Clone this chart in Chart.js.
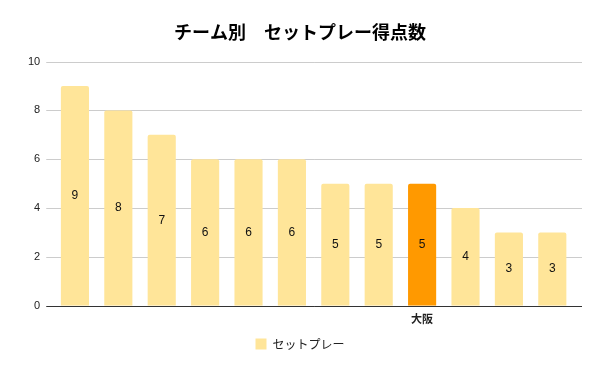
<!DOCTYPE html>
<html lang="ja">
<head>
  <meta charset="UTF-8" />
  <title>チーム別 セットプレー得点数</title>
  <style>
    html, body { margin: 0; padding: 0; background: #fff; }
    #wrap { width: 600px; height: 371px; }
  </style>
</head>
<body>
  <div id="wrap"><canvas id="chart"></canvas></div>
  <script src="https://cdn.jsdelivr.net/npm/chart.js"></script>
  <script>
    // data
    const teams = ['', '', '', '', '', '', '', '', '大阪', '', '', ''];
    const goals = [9, 8, 7, 6, 6, 6, 5, 5, 5, 4, 3, 3];
    const highlight = '大阪';
    const yTicks = [0, 2, 4, 6, 8, 10];

    const JP = "'Noto Sans CJK JP', 'Noto Sans', Arial, sans-serif";
    const NUM = "Arial, 'Liberation Sans', sans-serif";

    // gridlines + baseline run a bit wider than the bars (google sheets style)
    const wideGrid = {
      id: 'wideGrid',
      beforeDatasetsDraw(chart) {
        const { ctx, chartArea, scales } = chart;
        ctx.save();
        ctx.strokeStyle = '#cccccc';
        ctx.lineWidth = 1;
        yTicks.forEach(v => {
          if (v === 0) return;
          const y = Math.round(scales.y.getPixelForValue(v)) + 0.5;
          ctx.beginPath();
          ctx.moveTo(chartArea.left - 7, y);
          ctx.lineTo(chartArea.right + 8, y);
          ctx.stroke();
        });
        ctx.restore();
      },
      afterDatasetsDraw(chart) {
        const { ctx, chartArea, scales } = chart;
        const y = Math.round(scales.y.getPixelForValue(0)) + 0.5;
        ctx.save();
        ctx.strokeStyle = '#333';
        ctx.lineWidth = 1;
        ctx.beginPath();
        ctx.moveTo(chartArea.left - 7, y);
        ctx.lineTo(chartArea.right + 8, y);
        ctx.stroke();
        ctx.restore();
      }
    };

    // numbers in the middle of each bar
    const barLabels = {
      id: 'barLabels',
      afterDatasetsDraw(chart) {
        const ctx = chart.ctx;
        const meta = chart.getDatasetMeta(0);
        ctx.save();
        ctx.font = "12px " + NUM;
        ctx.fillStyle = '#111';
        ctx.textAlign = 'center';
        ctx.textBaseline = 'middle';
        meta.data.forEach((bar, i) => {
          const mid = (bar.y + bar.base) / 2;
          ctx.fillText(String(goals[i]), bar.x, mid);
        });
        ctx.restore();
      }
    };

    new Chart(document.getElementById('chart'), {
      type: 'bar',
      data: {
        labels: teams,
        datasets: [{
          label: 'セットプレー',
          data: goals,
          backgroundColor: teams.map(t => t === highlight ? '#FF9900' : '#FFE599'),
          borderRadius: { topLeft: 2, topRight: 2 },
          borderSkipped: 'bottom',
          categoryPercentage: 0.8,
          barPercentage: 0.81
        }]
      },
      options: {
        responsive: true,
        maintainAspectRatio: false,
        animation: false,
        layout: { padding: { left: 15, right: 15, top: 9, bottom: 11 } },
        plugins: {
          title: {
            display: true,
            text: 'チーム別　セットプレー得点数',
            color: '#000',
            font: { family: JP, size: 18, weight: 'bold' },
            padding: { top: 12, bottom: 19 }
          },
          legend: {
            position: 'bottom',
            labels: {
              color: '#222',
              font: { family: JP, size: 12 },
              boxWidth: 11,
              boxHeight: 11,
              padding: 7,
              generateLabels: () => [{
                text: 'セットプレー',
                fillStyle: '#FFE599',
                strokeStyle: '#FFE599',
                lineWidth: 0,
                fontColor: '#222'
              }]
            }
          },
          tooltip: { enabled: false }
        },
        scales: {
          x: {
            grid: { display: false, drawTicks: false },
            border: { display: false },
            ticks: { color: '#222', font: { family: JP, size: 11, weight: 'bold' }, padding: 6, autoSkip: false, maxRotation: 0 }
          },
          y: {
            min: 0,
            max: 10,
            afterBuildTicks: axis => { axis.ticks = yTicks.map(v => ({ value: v })); },
            grid: { display: false, drawTicks: false },
            border: { display: false },
            ticks: { color: '#222', font: { family: NUM, size: 11 }, padding: 13 }
          },
          // empty right-hand spacer so the title and legend stay centred on the page
          spacer: {
            position: 'right',
            grid: { display: false, drawTicks: false },
            border: { display: false },
            ticks: { display: false },
            afterFit: axis => { axis.width = 11; }
          }
        }
      },
      plugins: [wideGrid, barLabels]
    });
  </script>
</body>
</html>
